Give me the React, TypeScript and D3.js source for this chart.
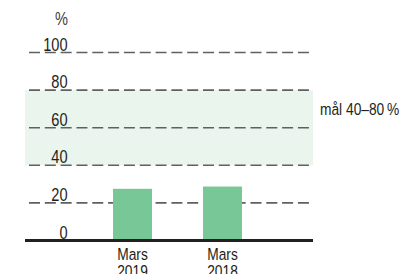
import React from 'react';
import * as d3 from 'd3';

const categories = ['Mars 2019', 'Mars 2018'];
const values = [27.5, 28.7];
const yTicks = [0, 20, 40, 60, 80, 100];
const targetRange = [40, 80];
const targetLabel = 'mål 40–80\u202f%';
const unitLabel = '%';

const W = 406;
const H = 274;
const FONT = '"Liberation Sans", Arial, sans-serif';
const SQUEEZE = 0.81;

// narrow-looking text: regular sans squeezed horizontally
const Narrow: React.FC<{
  x: number;
  y: number;
  size: number;
  anchor?: 'start' | 'middle' | 'end';
  fill?: string;
  children: React.ReactNode;
}> = ({ x, y, size, anchor = 'start', fill = '#231f20', children }) => (
  <text
    transform={`translate(${x},${y}) scale(${SQUEEZE},1)`}
    textAnchor={anchor}
    fontSize={size}
    fill={fill}
  >
    {children}
  </text>
);

export default function App() {
  const y = d3.scaleLinear().domain([0, 100]).range([240.5, 52.5]);
  const x = d3
    .scaleBand<string>()
    .domain(categories)
    .range([87.5, 267.5])
    .paddingInner(0.5667)
    .paddingOuter(0.2833);

  const plotLeft = 25;
  const plotRight = 313;
  const gridLeft = 29;
  const gridRight = 309;

  return (
    <svg
      width={W}
      height={H}
      style={{ position: 'absolute', left: 0, top: 0, display: 'block' }}
      fontFamily={FONT}
    >
      {/* target band */}
      <rect
        x={plotLeft}
        y={y(targetRange[1])}
        width={plotRight - plotLeft}
        height={y(targetRange[0]) - y(targetRange[1])}
        fill="#e9f5ed"
      />

      {/* gridlines */}
      {yTicks
        .filter(t => t > 0)
        .map(t => (
          <line
            key={t}
            x1={gridLeft}
            x2={gridRight}
            y1={y(t)}
            y2={y(t)}
            stroke="#5f6062"
            strokeWidth={1.6}
            strokeDasharray="11 4.82"
          />
        ))}

      {/* tick labels */}
      {yTicks.map(t => (
        <Narrow key={t} x={67.5} y={y(t) - 2} size={18} anchor="end">
          {t}
        </Narrow>
      ))}
      <Narrow x={68} y={25} size={18} anchor="end" fill="#414042">
        {unitLabel}
      </Narrow>

      {/* bars */}
      {categories.map((c, i) => (
        <rect
          key={c}
          x={x(c)}
          y={y(values[i])}
          width={x.bandwidth()}
          height={y(0) - y(values[i])}
          fill="#78c796"
        />
      ))}

      {/* baseline */}
      <line
        x1={plotLeft}
        x2={plotRight}
        y1={y(0)}
        y2={y(0)}
        stroke="#231f20"
        strokeWidth={3}
      />

      {/* category labels */}
      {categories.map(c => {
        const cx = (x(c) ?? 0) + x.bandwidth() / 2;
        const [l1, l2] = c.split(' ');
        return (
          <g key={c}>
            <Narrow x={cx} y={260} size={17} anchor="middle">{l1}</Narrow>
            <Narrow x={cx} y={277} size={17} anchor="middle">{l2}</Narrow>
          </g>
        );
      })}

      {/* target label */}
      <Narrow x={320} y={115} size={17}>
        {targetLabel}
      </Narrow>
    </svg>
  );
}
